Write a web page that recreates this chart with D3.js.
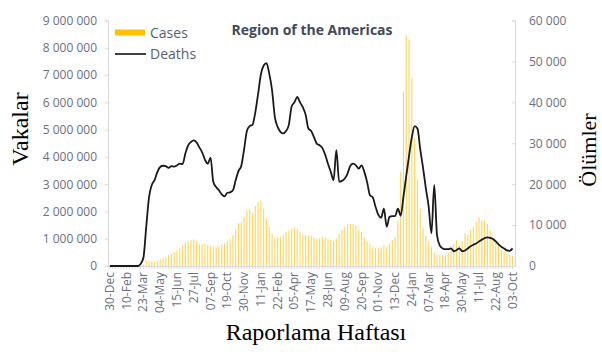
<!DOCTYPE html>
<html>
<head>
<meta charset="utf-8">
<script src="https://cdn.jsdelivr.net/npm/d3@7"></script>
<style>
  body { margin: 0; background: #fff; }
  text { font-family: "Open Sans", sans-serif; }
</style>
</head>
<body>
<div id="wrapper"></div>
<script>
// weekly cases, millions (30-Dec-2019 .. 03-Oct-2022)
const cases = [
  0, 0, 0, 0, 0, 0, 0, 0, 0, 0, 0, 0, 0.05, 0.22, 0.2, 0.17, 0.16, 0.2, 0.25, 0.3,
  0.32, 0.4, 0.45, 0.52, 0.58, 0.65, 0.75, 0.85, 0.92, 0.95, 0.97, 0.9, 0.8, 0.8, 0.8, 0.77, 0.75, 0.7, 0.7, 0.72,
  0.78, 0.83, 0.93, 1.0, 1.13, 1.34, 1.58, 1.6, 1.8, 2.05, 2.1, 1.95, 2.2, 2.35, 2.4, 2.1, 1.74, 1.44, 1.2, 1.04,
  1.05, 1.07, 1.15, 1.25, 1.32, 1.38, 1.42, 1.35, 1.25, 1.18, 1.13, 1.13, 1.1, 1.05, 1.0, 1.02, 1.07, 1.05, 1.0, 0.95,
  0.9, 1.0, 1.2, 1.32, 1.44, 1.54, 1.54, 1.54, 1.5, 1.32, 1.25, 1.05, 0.9, 0.83, 0.7, 0.65, 0.65, 0.68, 0.77, 0.7,
  0.83, 0.95, 1.07, 1.65, 3.45, 6.4, 8.45, 8.3, 6.9, 4.7, 3.15, 2.1, 1.4, 1.1, 0.9, 0.7, 0.5, 0.42, 0.4, 0.4,
  0.42, 0.48, 0.6, 0.8, 0.95, 0.75, 0.9, 1.2, 1.13, 1.32, 1.45, 1.62, 1.8, 1.65, 1.68, 1.55, 1.32, 1.0, 0.85, 0.78,
  0.6, 0.52, 0.45, 0.42, 0.37
].map(v => v * 1e6);

// weekly deaths, thousands
const deaths = [
  0, 0, 0, 0, 0, 0, 0, 0, 0, 0, 0, 0.5, 2, 9.5, 16.8, 19.8, 21, 23, 24.2, 24.5,
  24.4, 24, 24.4, 24.3, 24.6, 25, 24.9, 27.5, 29.5, 30.3, 30.7, 30.2, 29, 27.8, 26, 25, 26.5, 20.5, 19.3, 18.5,
  17.5, 17, 17.9, 18, 18.5, 21, 23.2, 24.5, 28.5, 33, 34.2, 34.5, 37.5, 42, 46.8, 49, 49.6, 47, 43, 36.4,
  34, 32.8, 32.4, 33, 34.5, 39, 40, 41.3, 40, 38.8, 37, 33.6, 33, 31.5, 29.9, 29.5, 28.8, 27.2, 25, 23,
  21, 28.3, 20.6, 20.8, 21.4, 22.6, 24.5, 25, 24.6, 23.8, 24.6, 23, 20.5, 17.3, 16.8, 14.5, 12.5, 11.8, 14, 9.6,
  12, 12.2, 12.2, 14, 12.3, 17, 22, 27, 31.5, 34.2, 33.6, 28.5, 24, 19, 14.5, 8, 19.8, 7.5, 5, 4.3,
  4.1, 4.1, 4.3, 3.6, 3.9, 4.3, 3.6, 3.8, 4.3, 4.8, 5.2, 5.5, 6, 6.4, 6.8, 7, 6.9, 6.6, 6, 5.3,
  4.7, 4.3, 3.8, 3.7, 4.3
].map(v => v * 1000);

const tickLabels = ["30-Dec", "10-Feb", "23-Mar", "04-May", "15-Jun", "27-Jul", "07-Sep", "19-Oct",
  "30-Nov", "11-Jan", "22-Feb", "05-Apr", "17-May", "28-Jun", "09-Aug", "20-Sep", "01-Nov", "13-Dec",
  "24-Jan", "07-Mar", "18-Apr", "30-May", "11-Jul", "22-Aug", "03-Oct"];

const caseTicks = d3.range(0, 9000001, 1000000);
const deathTicks = d3.range(0, 60001, 10000);

const width = 602, height = 352;
const plot = { left: 108, right: 515, top: 20.5, bottom: 266 };

const svg = d3.select("#wrapper").append("svg")
    .attr("width", width)
    .attr("height", height);

const weeks = d3.range(cases.length);

const xScaler = d3.scaleBand()
    .domain(weeks)
    .range([109.3, 513.1])
    .paddingInner(0.6);

const yCases = d3.scaleLinear()
    .domain([0, 9000000])
    .range([plot.bottom, plot.top]);

const yDeaths = d3.scaleLinear()
    .domain([0, 60000])
    .range([plot.bottom, plot.top]);

const fmt = d => d3.format(",")(d).replace(/,/g, " ");

// left axis
const leftAxis = svg.append("g")
    .attr("transform", `translate(${plot.left},0)`)
    .call(d3.axisLeft(yCases).tickValues(caseTicks).tickSize(3).tickPadding(8).tickFormat(fmt));
leftAxis.select(".domain").attr("stroke", "#d9d9d9");
leftAxis.selectAll(".tick line").attr("stroke", "#d9d9d9");
leftAxis.selectAll("text").attr("fill", "#6b6f80").style("font-size", "12px")
    .style("font-family", "'Open Sans', sans-serif");

// right axis
const rightAxis = svg.append("g")
    .attr("transform", `translate(${plot.right},0)`)
    .call(d3.axisRight(yDeaths).tickValues(deathTicks).tickSize(-3).tickPadding(14).tickFormat(fmt));
rightAxis.select(".domain").attr("stroke", "#d9d9d9");
rightAxis.selectAll(".tick line").attr("stroke", "#d9d9d9");
rightAxis.selectAll("text").attr("fill", "#6b6f80").style("font-size", "12px")
    .style("font-family", "'Open Sans', sans-serif");

// bars
svg.append("g")
    .selectAll("rect")
    .data(cases)
    .join("rect")
    .attr("x", (d, i) => xScaler(i))
    .attr("width", xScaler.bandwidth())
    .attr("y", d => yCases(d))
    .attr("height", d => plot.bottom - yCases(d))
    .attr("fill", "#ffc000")
    .attr("opacity", 0.65);

// x axis
const xAxis = svg.append("g")
    .attr("transform", `translate(0,${plot.bottom})`)
    .call(d3.axisBottom(xScaler).tickSize(3).tickFormat(""));
xAxis.select(".domain").attr("stroke", "#d9d9d9").attr("d", `M${plot.left},0.5H${plot.right}`);
xAxis.selectAll(".tick line").attr("stroke", "#d9d9d9");

svg.append("g")
    .selectAll("text")
    .data(tickLabels)
    .join("text")
    .attr("transform", (d, k) => `translate(${xScaler(k * 6) + xScaler.bandwidth() / 2 + 4},272) rotate(-90)`)
    .attr("text-anchor", "end")
    .attr("fill", "#6b6f80")
    .style("font-size", "12px")
    .text(d => d);

// deaths line
const lineGenerator = d3.line()
    .x((d, i) => xScaler(i) + xScaler.bandwidth() / 2)
    .y(d => yDeaths(d))
    .curve(d3.curveMonotoneX);

svg.append("path")
    .attr("d", lineGenerator(deaths))
    .attr("fill", "none")
    .attr("stroke", "#1a1a1a")
    .attr("stroke-width", 1.8);

// title
svg.append("text")
    .attr("x", 312)
    .attr("y", 35)
    .attr("text-anchor", "middle")
    .attr("fill", "#44495a")
    .style("font-size", "14px")
    .style("font-weight", "bold")
    .text("Region of the Americas");

// legend
svg.append("rect")
    .attr("x", 115).attr("y", 29.5)
    .attr("width", 30).attr("height", 6)
    .attr("fill", "#ffc000");
svg.append("text")
    .attr("x", 150).attr("y", 38)
    .attr("fill", "#5a5f74")
    .style("font-size", "14px")
    .text("Cases");
svg.append("line")
    .attr("x1", 115).attr("x2", 146)
    .attr("y1", 54).attr("y2", 54)
    .attr("stroke", "#404040")
    .attr("stroke-width", 2);
svg.append("text")
    .attr("x", 150).attr("y", 59)
    .attr("fill", "#5a5f74")
    .style("font-size", "14px")
    .text("Deaths");

// axis titles
svg.append("text")
    .attr("transform", "translate(28,129) rotate(-90)")
    .attr("text-anchor", "middle")
    .style("font-family", "'Liberation Serif', serif")
    .style("font-size", "24px")
    .attr("fill", "#000")
    .text("Vakalar");

svg.append("text")
    .attr("transform", "translate(596,150) rotate(-90)")
    .attr("text-anchor", "middle")
    .style("font-family", "'Liberation Serif', serif")
    .style("font-size", "22px")
    .attr("fill", "#000")
    .text("Ölümler");

svg.append("text")
    .attr("x", 316)
    .attr("y", 340)
    .attr("text-anchor", "middle")
    .style("font-family", "'Liberation Serif', serif")
    .style("font-size", "24px")
    .attr("fill", "#000")
    .text("Raporlama Haftası");
</script>
</body>
</html>
